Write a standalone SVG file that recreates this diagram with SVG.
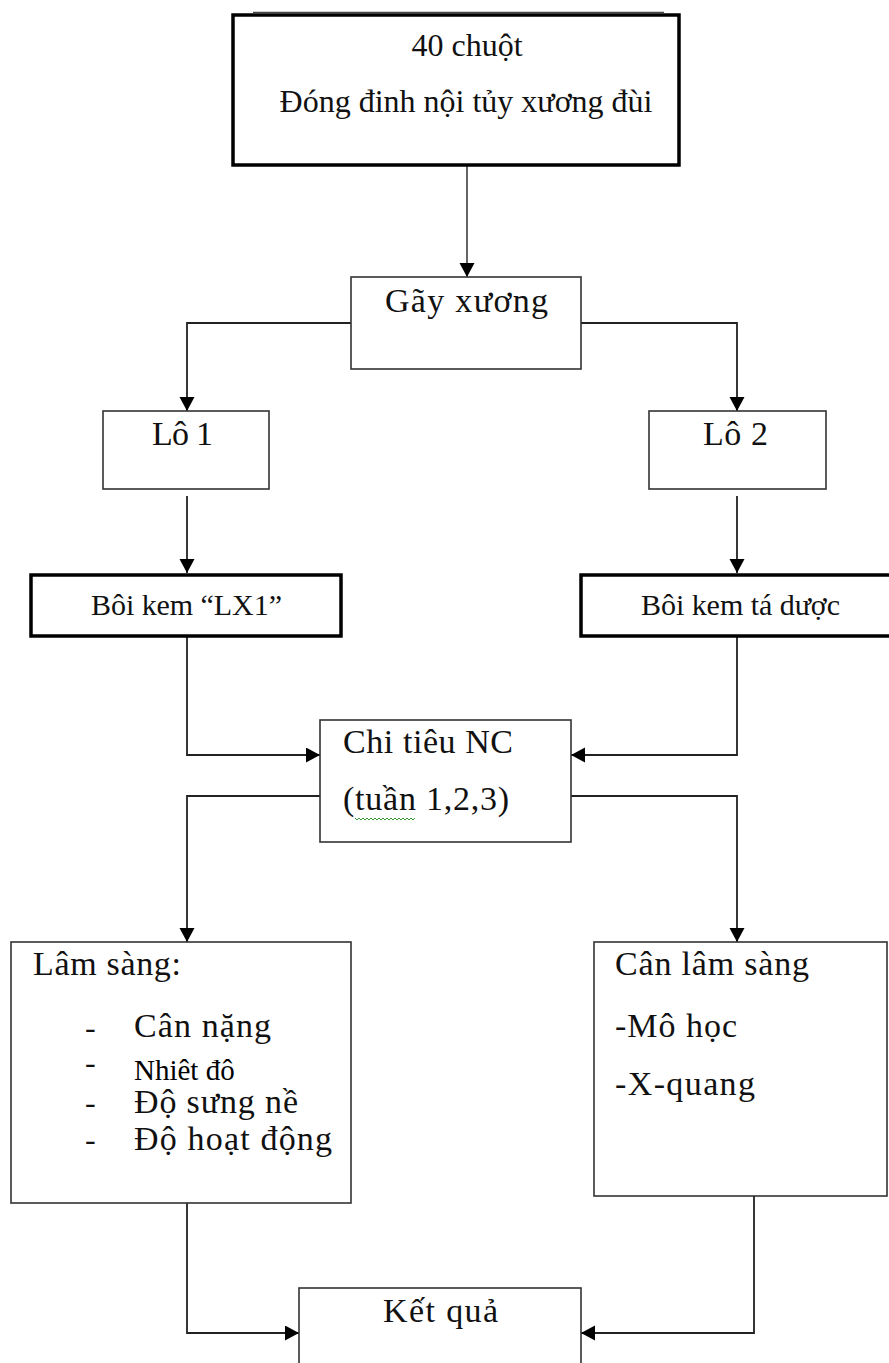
<svg xmlns="http://www.w3.org/2000/svg" width="889" height="1363" viewBox="0 0 889 1363">
<style>
.box{fill:#fff;stroke:#333;stroke-width:1.6}
.thick{fill:#fff;stroke:#000;stroke-width:3.5}
.t{font-family:'Liberation Serif','Times New Roman',Tinos,'DejaVu Serif',serif;font-size:32px;fill:#111}
.m{font-size:34px}
.s{font-size:30px}
.c{text-anchor:middle}
.con{fill:none;stroke:#222;stroke-width:1.8}
</style>
<defs>
<marker id="ah" markerWidth="16" markerHeight="16" refX="14" refY="7.5" orient="auto" markerUnits="userSpaceOnUse">
<path d="M0,0 L14,7.5 L0,15 z" fill="#000"/>
</marker>
</defs>
<rect width="889" height="1363" fill="#fff"/>

<g id="connectors">
<path class="con" d="M467,165 V277" marker-end="url(#ah)" style="stroke:#555"/>
<path class="con" d="M351,323 H187 V411" marker-end="url(#ah)"/>
<path class="con" d="M581,323 H737 V411" marker-end="url(#ah)"/>
<path class="con" d="M187,496 V573" marker-end="url(#ah)"/>
<path class="con" d="M737,496 V573" marker-end="url(#ah)"/>
<path class="con" d="M187,637 V755 H320" marker-end="url(#ah)"/>
<path class="con" d="M737,637 V755 H571" marker-end="url(#ah)"/>
<path class="con" d="M320,796 H187 V942" marker-end="url(#ah)"/>
<path class="con" d="M571,796 H737 V942" marker-end="url(#ah)"/>
<path class="con" d="M187,1203 V1333 H299" marker-end="url(#ah)"/>
<path class="con" d="M754,1196 V1333 H581" marker-end="url(#ah)"/>
</g>

<g id="n-top">
<rect class="thick" x="233" y="15" width="446" height="150"/>
<line x1="253" y1="12.5" x2="664" y2="12.5" stroke="#444" stroke-width="1.5"/>
<text class="t c" x="467" y="56">40 chuột</text>
<text class="t c" x="466" y="112">Đóng đinh nội tủy xương đùi</text>
</g>

<g id="n-gay">
<rect class="box" x="351" y="277" width="230" height="92"/>
<text class="t m" x="385" y="312" textLength="163">Gãy xương</text>
</g>

<g id="n-lo1">
<rect class="box" x="103" y="411" width="166" height="78"/>
<text class="t m" x="152" y="445" textLength="61">Lô 1</text>
</g>

<g id="n-lo2">
<rect class="box" x="649" y="411" width="177" height="78"/>
<text class="t m" x="703" y="445" textLength="65">Lô 2</text>
</g>

<g id="n-boi1">
<rect class="thick" x="31" y="575" width="310" height="61"/>
<text class="t s" x="91" y="615" textLength="191">Bôi kem “LX1”</text>
</g>

<g id="n-boi2">
<rect class="thick" x="581" y="575" width="318" height="61"/>
<text class="t s" x="641" y="615" textLength="199">Bôi kem tá dược</text>
</g>

<g id="n-chitieu">
<rect class="box" x="320" y="720" width="251" height="122"/>
<text class="t m" x="343" y="753" textLength="170">Chi tiêu NC</text>
<text class="t m" x="343" y="810" textLength="166">(tuần 1,2,3)</text>
<path d="M355,818 l2,2 l2,-2 l2,2 l2,-2 l2,2 l2,-2 l2,2 l2,-2 l2,2 l2,-2 l2,2 l2,-2 l2,2 l2,-2 l2,2 l2,-2 l2,2 l2,-2 l2,2 l2,-2 l2,2 l2,-2 l2,2 l2,-2 l2,2 l2,-2 l2,2 l2,-2 l2,2 l2,-2" fill="none" stroke="#3a9a3a" stroke-width="1"/>
</g>

<g id="n-lamsang">
<rect class="box" x="11" y="942" width="340" height="261"/>
<text class="t m" x="33" y="975" textLength="148">Lâm sàng:</text>
<text class="t" x="85" y="1038">-</text>
<text class="t m" x="134" y="1037" textLength="137">Cân nặng</text>
<text class="t" x="85" y="1073">-</text>
<text class="t" x="134" y="1080" style="font-size:29px;fill:#000">Nhiêt đô</text>
<text class="t" x="85" y="1113">-</text>
<text class="t m" x="134" y="1113" textLength="164">Độ sưng nề</text>
<text class="t" x="85" y="1150">-</text>
<text class="t m" x="134" y="1150" textLength="198">Độ hoạt động</text>
</g>

<g id="n-canlamsang">
<rect class="box" x="594" y="942" width="293" height="254"/>
<text class="t m" x="615" y="975" textLength="194">Cân lâm sàng</text>
<text class="t m" x="615" y="1037" textLength="122">-Mô học</text>
<text class="t m" x="615" y="1095" textLength="140">-X-quang</text>
</g>

<g id="n-ketqua">
<rect class="box" x="299" y="1288" width="282" height="90"/>
<text class="t m" x="383" y="1322" textLength="115">Kết quả</text>
</g>
</svg>
